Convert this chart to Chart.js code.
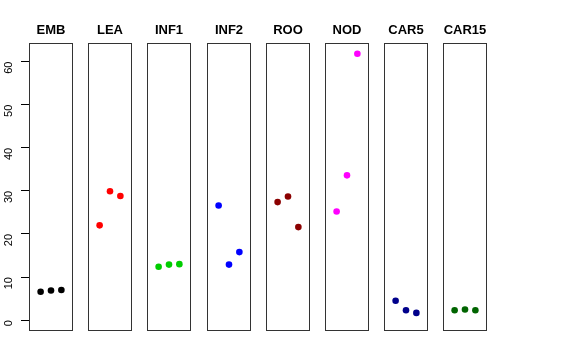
<!DOCTYPE html>
<html lang="en">
<head>
<meta charset="UTF-8">
<title>Panels</title>
<script src="https://cdn.jsdelivr.net/npm/chart.js@4.4.1/dist/chart.umd.min.js"></script>
<style>
  body { margin: 0; background: #fff; }
  #wrap { position: relative; width: 576px; height: 360px; }
  #wrap canvas { position: absolute; top: 0; }
</style>
</head>
<body>
<div id="wrap"></div>
<script>
// tissue panels, three replicates each
const tissues = ['EMB', 'LEA', 'INF1', 'INF2', 'ROO', 'NOD', 'CAR5', 'CAR15'];
const colors = ['#000000', '#FF0000', '#00CD00', '#0000FF', '#8B0000', '#FF00FF', '#00008B', '#006400'];
const replicate = [1, 2, 3];
const EMB = [6.6, 6.9, 7.0];
const LEA = [22.0, 29.9, 28.8];
const INF1 = [12.4, 12.9, 13.0];
const INF2 = [26.6, 12.9, 15.8];
const ROO = [27.4, 28.7, 21.6];
const NOD = [25.2, 33.6, 61.8];
const CAR5 = [4.5, 2.3, 1.7];
const CAR15 = [2.3, 2.5, 2.3];
const values = [EMB, LEA, INF1, INF2, ROO, NOD, CAR5, CAR15];
const yTicks = [0, 10, 20, 30, 40, 50, 60];

const panelLeft = [29, 88, 147, 207, 266, 325, 384, 443];
const panelW = 44;
const axisW = 29;
const pad = 8;

// box + title drawn around each panel
const panelDeco = {
    id: 'panelDeco',
    afterDraw(chart) {
        const a = chart.chartArea;
        const ctx = chart.ctx;
        ctx.save();
        ctx.strokeStyle = '#333';
        ctx.lineWidth = 1;
        ctx.strokeRect(a.left + 0.5, a.top + 0.5, a.right - a.left - 1, a.bottom - a.top - 1);
        ctx.fillStyle = '#000';
        ctx.font = 'bold 13px "Liberation Sans", Arial, sans-serif';
        ctx.textAlign = 'center';
        ctx.textBaseline = 'middle';
        ctx.fillText(chart.options.plugins.panelDeco.title, (a.left + a.right) / 2, 30);
        ctx.restore();
    }
};

tissues.forEach((name, i) => {
    const first = i === 0;
    const canvas = document.createElement('canvas');
    const w = first ? panelLeft[0] + panelW + pad : panelW + 2 * pad;
    const left = first ? 0 : panelLeft[i] - pad;
    canvas.style.left = left + 'px';
    canvas.style.width = w + 'px';
    canvas.style.height = '340px';
    canvas.width = w;
    canvas.height = 340;
    document.getElementById('wrap').appendChild(canvas);

    new Chart(canvas.getContext('2d'), {
        type: 'scatter',
        data: {
            datasets: [{
                data: replicate.map((r, k) => ({ x: r, y: values[i][k] })),
                backgroundColor: colors[i],
                borderWidth: 0,
                pointRadius: 3.3,
                pointHoverRadius: 3.3
            }]
        },
        options: {
            responsive: false,
            animation: false,
            events: [],
            layout: {
                padding: { top: 43, bottom: 9, left: first ? 0 : pad, right: pad }
            },
            scales: {
                x: {
                    type: 'linear',
                    min: -0.12,
                    max: 4.12,
                    display: false
                },
                y: {
                    type: 'linear',
                    min: -2.5,
                    max: 64.3,
                    display: first,
                    afterBuildTicks: s => { s.ticks = yTicks.map(v => ({ value: v })); },
                    afterFit: s => {
                        s.width = first ? axisW : 0;
                        s.paddingTop = 0;
                        s.paddingBottom = 0;
                    },
                    border: { display: false },
                    grid: {
                        drawOnChartArea: false,
                        color: '#000',
                        tickLength: 8
                    },
                    ticks: {
                        color: '#000',
                        minRotation: 90,
                        maxRotation: 90,
                        padding: 12,
                        font: { family: '"Liberation Sans", Arial, sans-serif', size: 11 }
                    }
                }
            },
            plugins: {
                legend: { display: false },
                tooltip: { enabled: false },
                panelDeco: { title: name }
            }
        },
        plugins: [panelDeco]
    });
});
</script>
</body>
</html>
